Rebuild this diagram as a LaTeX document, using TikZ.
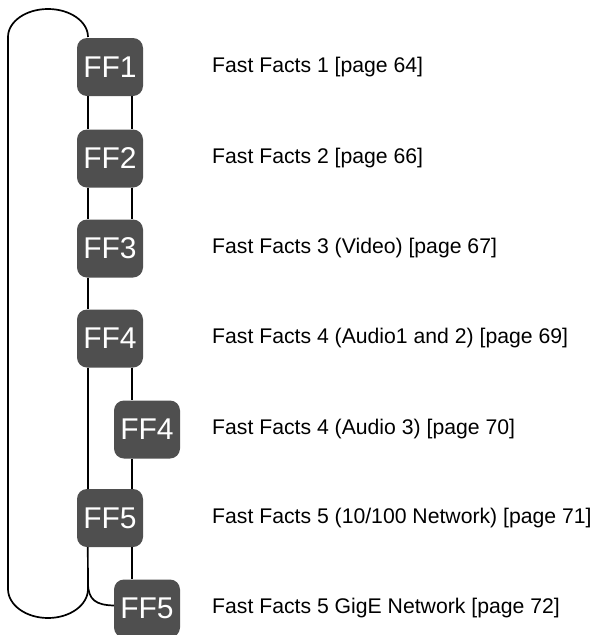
\documentclass[tikz,border=0pt]{standalone}
\usepackage{fontspec}
\setmainfont{Liberation Sans}
\definecolor{ffgray}{HTML}{4F4F4F}
\begin{document}
\begin{tikzpicture}[x=1pt,y=1pt,
  ffbox/.style={fill=ffgray, text=white, rounded corners=10pt, minimum width=66pt, minimum height=58pt, inner sep=0pt, font=\fontsize{30}{30}\selectfont},
  fflabel/.style={anchor=west, inner sep=0pt, font=\fontsize{21.2}{24}\selectfont},
  conn/.style={line width=1.7pt, black}]
\useasboundingbox (0,0) rectangle (593,-635);
% boxes
\node[ffbox] (ff1) at (110,-67) {FF1};
\node[ffbox] (ff2) at (110,-158.5) {FF2};
\node[ffbox] (ff3) at (110,-248.5) {FF3};
\node[ffbox] (ff4) at (110,-338.5) {FF4};
\node[ffbox] (ff4b) at (147,-429.5) {FF4};
\node[ffbox] (ff5) at (110,-518) {FF5};
\node[ffbox] (ff5b) at (147,-608.5) {FF5};
% labels
\node[fflabel] (t1) at (212,-67) {Fast Facts 1 [page 64]};
\node[fflabel] (t2) at (212,-158.5) {Fast Facts 2 [page 66]};
\node[fflabel] (t3) at (212,-248.5) {Fast Facts 3 (Video) [page 67]};
\node[fflabel] (t4) at (212,-338.5) {Fast Facts 4 (Audio1 and 2) [page 69]};
\node[fflabel] (t4b) at (212,-429.5) {Fast Facts 4 (Audio 3) [page 70]};
\node[fflabel] (t5) at (212,-518) {Fast Facts 5 (10/100 Network) [page 71]};
\node[fflabel] (t5b) at (212,-608.5) {Fast Facts 5 GigE Network [page 72]};
% connectors
\draw[conn] ([xshift=11pt]ff1.south west) -- ([xshift=11pt]ff2.north west);
\draw[conn] ([xshift=-11pt]ff1.south east) -- ([xshift=-11pt]ff2.north east);
\draw[conn] ([xshift=11pt]ff2.south west) -- ([xshift=11pt]ff3.north west);
\draw[conn] ([xshift=-11pt]ff2.south east) -- ([xshift=-11pt]ff3.north east);
\draw[conn] ([xshift=11pt]ff3.south west) -- ([xshift=11pt]ff4.north west);
\draw[conn] ([xshift=11pt]ff4.south west) -- ([xshift=11pt]ff5.north west);
\draw[conn] ([xshift=-11pt]ff4.south east) -- ([xshift=-11pt]ff4.south east |- ff4b.north);
\draw[conn] ([xshift=-11pt]ff5.north east |- ff4b.south) -- ([xshift=-11pt]ff5.north east);
\draw[conn] ([xshift=-11pt]ff5.south east) -- ([xshift=-11pt]ff5.south east |- ff5b.north);
\coordinate (j) at (88,-589);
\coordinate (top) at (88,-37);
\draw[conn] ([xshift=11pt]ff5.south west) -- (j);
\draw[conn] (top) arc[start angle=0, end angle=180, x radius=40, y radius=28] -- (8,-589) arc[start angle=180, end angle=360, x radius=40, y radius=29];
\draw[conn] (88,-583) .. controls (88,-600) and (96,-605) .. ([yshift=3pt]ff5b.west);
\end{tikzpicture}
\end{document}
